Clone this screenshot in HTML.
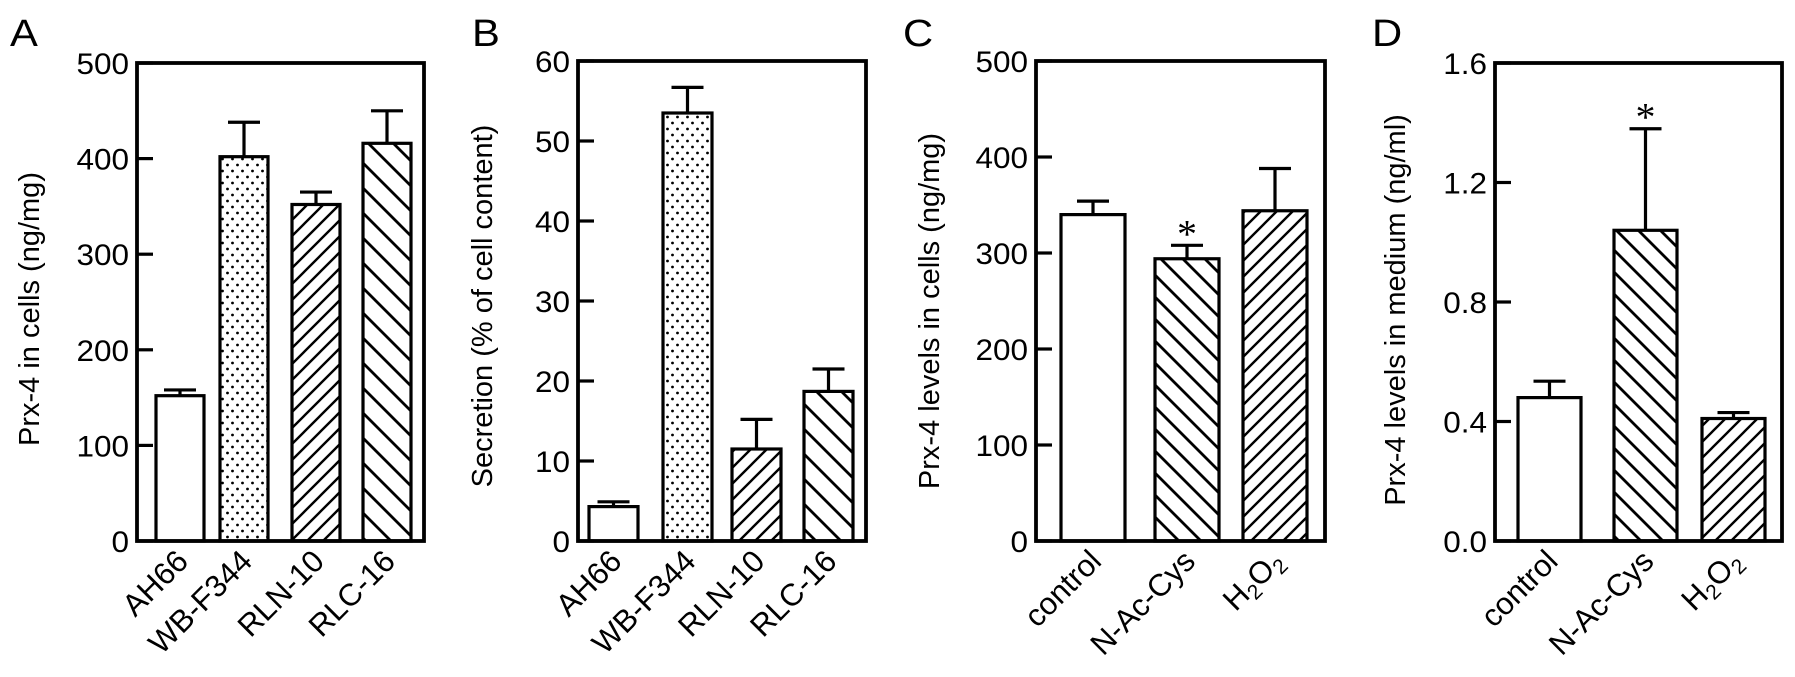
<!DOCTYPE html>
<html><head><meta charset="utf-8"><style>
html,body{margin:0;padding:0;background:#fff}
svg{display:block;font-family:"Liberation Sans",Arial,sans-serif}
</style></head><body>
<svg id="fig" width="1795" height="677" viewBox="0 0 1795 677" xmlns="http://www.w3.org/2000/svg">
<defs>
<pattern id="dots" width="10" height="12" patternUnits="userSpaceOnUse"><rect width="10" height="12" fill="#fff"/><circle cx="2.5" cy="3" r="1.4" fill="#000"/><circle cx="7.5" cy="9" r="1.4" fill="#000"/></pattern>
<pattern id="fwdDense" width="16" height="16" patternUnits="userSpaceOnUse"><rect width="16" height="16" fill="#fff"/><path d="M-4,4 L4,-4 M0,16 L16,0 M12,20 L20,12" stroke="#000" stroke-width="2.4"/></pattern>
<pattern id="backWide" width="25" height="25" patternUnits="userSpaceOnUse"><rect width="25" height="25" fill="#fff"/><path d="M-5,-5 L30,30 M-5,20 L5,30 M20,-5 L30,5" stroke="#000" stroke-width="2.8"/></pattern>
<pattern id="backMed" width="22" height="22" patternUnits="userSpaceOnUse"><rect width="22" height="22" fill="#fff"/><path d="M-5,-5 L27,27 M-5,17 L5,27 M17,-5 L27,5" stroke="#000" stroke-width="2.8"/></pattern>
</defs>
<g id="root"></g>
</svg>
<script>
// Panel A
const catsA = ["AH66","WB-F344","RLN-10","RLC-16"];
const valsA = [152, 402, 352, 416];
const errA = [158, 438, 365, 450];
const ticksA = [0,100,200,300,400,500];
// Panel B
const catsB = ["AH66","WB-F344","RLN-10","RLC-16"];
const valsB = [4.3, 53.5, 11.5, 18.7];
const errB = [4.9, 56.7, 15.2, 21.5];
const ticksB = [0,10,20,30,40,50,60];
// Panel C
const catsC = ["control","N-Ac-Cys","H2O2"];
const valsC = [340, 294, 344];
const errC = [354, 308, 388];
const ticksC = [0,100,200,300,400,500];
const starC = [false, true, false];
// Panel D
const catsD = ["control","N-Ac-Cys","H2O2"];
const valsD = [0.48, 1.04, 0.41];
const errD = [0.535, 1.38, 0.43];
const ticksD = ["0.0","0.4","0.8","1.2","1.6"];
const starD = [false, true, false];

const NS="http://www.w3.org/2000/svg";
const root=document.getElementById('root');
function el(tag,attrs,parent){const e=document.createElementNS(NS,tag);for(const k in attrs)e.setAttribute(k,attrs[k]);(parent||root).appendChild(e);return e;}

function panel(cfg){
  const g=el('g',{});
  
  
  const {L,R,T,B}=cfg;
  const tv=cfg.ticks.map(Number);
  const ymax=tv[tv.length-1];
  const y=v=>B-(v/ymax)*(B-T);
  const lt=el('text',{x:0,y:0,'font-size':38,transform:`translate(${cfg.lx},46) scale(1.1,1)`},g);lt.textContent=cfg.letter;
  
  
  cfg.vals.forEach((v,i)=>{
    const x0=cfg.bx[i], w=cfg.bw;
    const cx=x0+w/2;
    const eb=el('path',{d:`M${cx},${y(v)} L${cx},${y(cfg.err[i])} M${cx-16},${y(cfg.err[i])} L${cx+16},${y(cfg.err[i])}`,stroke:'#000','stroke-width':3.2,fill:'none'},g);
    
    
    const r=el('rect',{x:x0,y:y(v),width:w,height:B-y(v),fill:cfg.fills[i],stroke:'#000','stroke-width':3.2},g);
    
    
    if(cfg.star&&cfg.star[i]){const s=el('text',{x:cx,y:y(cfg.err[i])+2,'font-size':40,'text-anchor':'middle','font-family':'Liberation Serif, serif'},g);s.textContent='*';
      
      }
    const t=el('text',{x:0,y:0,'font-size':31,'text-anchor':'end',transform:`translate(${cx+10},${B+22}) rotate(-45)`},g);
    
    
    if(cfg.cats[i]==='H2O2'){t.textContent='H';const a=el('tspan',{'font-size':21,dy:6},t);a.textContent='2';const b=el('tspan',{dy:-6},t);b.textContent='O';const c=el('tspan',{'font-size':21,dy:6},t);c.textContent='2';}
    else t.textContent=cfg.cats[i];
  });
  cfg.ticks.forEach(tk=>{
    const yy=y(Number(tk));
    const ln=el('line',{x1:L,x2:L+16,y1:yy,y2:yy,stroke:'#000','stroke-width':3.2},g);
    
    
    const tt=el('text',{x:0,y:0,'font-size':30,'text-anchor':'end',transform:`translate(${L-8},${yy+11}) scale(1.05,1)`},g);tt.textContent=tk;
    
    
  });
  const fr=el('rect',{x:L,y:T,width:R-L,height:B-T,fill:'none',stroke:'#000','stroke-width':3.8},g);
  
  
  const yt=el('text',{x:0,y:0,'font-size':cfg.yfs||29,'text-anchor':'middle',transform:`translate(${cfg.yx+10},${cfg.ycy}) rotate(-90)`},g);
  yt.textContent=cfg.ylabel;
  
  
}

panel({letter:'A',lx:10,L:137,R:424,T:63,B:541,cats:catsA,vals:valsA,err:errA,ticks:ticksA,bx:[156,220,292,363],bw:48,
  fills:['#fff','url(#dots)','url(#fwdDense)','url(#backWide)'],ylabel:'Prx-4 in cells (ng/mg)',yx:29,ycy:309});
panel({letter:'B',lx:472,L:578,R:866,T:61,B:541,cats:catsB,vals:valsB,err:errB,ticks:ticksB,bx:[589,663,732,804],bw:49,
  fills:['#fff','url(#dots)','url(#fwdDense)','url(#backWide)'],ylabel:'Secretion (% of cell content)',yx:482,ycy:306});
panel({letter:'C',lx:903,L:1036,R:1325,T:61,B:541,cats:catsC,vals:valsC,err:errC,ticks:ticksC,bx:[1061,1155,1243],bw:64,star:starC,
  fills:['#fff','url(#backMed)','url(#fwdDense)'],ylabel:'Prx-4 levels in cells (ng/mg)',yx:929,ycy:311});
panel({letter:'D',lx:1372,L:1495,R:1782,T:63,B:541,cats:catsD,vals:valsD,err:errD,ticks:ticksD,bx:[1518,1614,1702],bw:63,star:starD,
  fills:['#fff','url(#backMed)','url(#fwdDense)'],ylabel:'Prx-4 levels in medium (ng/ml)',yx:1395,ycy:310});
</script>
</body></html>
